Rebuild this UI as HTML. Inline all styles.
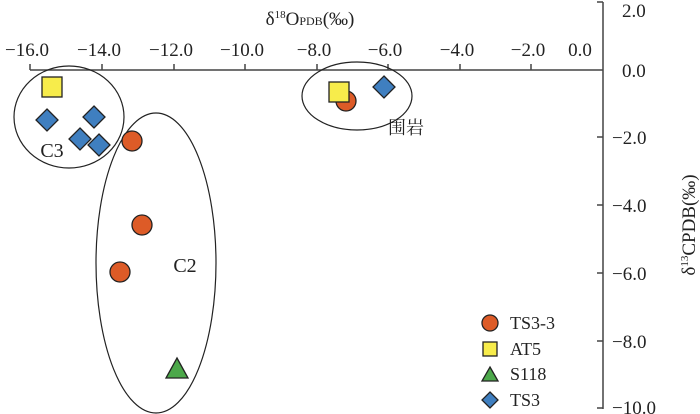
<!DOCTYPE html>
<html><head><meta charset="utf-8"><style>
html,body{margin:0;padding:0;background:#fff;}
svg{display:block;}
text{font-family:"Liberation Serif","Noto Serif CJK SC",serif;fill:#222;}
</style></head><body>
<svg width="700" height="414" viewBox="0 0 700 414" xmlns="http://www.w3.org/2000/svg">
<g stroke="#444" stroke-width="1.5" fill="none">
<line x1="30" y1="70" x2="603" y2="70"/>
<line x1="603" y1="2" x2="603" y2="409"/>
<line x1="30" y1="70" x2="30" y2="64"/><line x1="102" y1="70" x2="102" y2="64"/>
<line x1="174" y1="70" x2="174" y2="64"/><line x1="245" y1="70" x2="245" y2="64"/>
<line x1="317" y1="70" x2="317" y2="64"/><line x1="388" y1="70" x2="388" y2="64"/>
<line x1="460" y1="70" x2="460" y2="64"/><line x1="531" y1="70" x2="531" y2="64"/>
<line x1="603" y1="2" x2="597" y2="2"/><line x1="603" y1="137" x2="597" y2="137"/>
<line x1="603" y1="205" x2="597" y2="205"/><line x1="603" y1="273" x2="597" y2="273"/>
<line x1="603" y1="341" x2="597" y2="341"/><line x1="603" y1="408" x2="597" y2="408"/>
</g>
<g font-size="19" text-anchor="middle">
<text x="27" y="56">−16.0</text><text x="99" y="56">−14.0</text><text x="171" y="56">−12.0</text>
<text x="242" y="56">−10.0</text><text x="314" y="56">−8.0</text><text x="385" y="56">−6.0</text>
<text x="457" y="56">−4.0</text><text x="528" y="56">−2.0</text><text x="580" y="56">0.0</text>
</g>
<g font-size="19">
<text x="622" y="17">2.0</text><text x="622" y="77">0.0</text><text x="612" y="144">−2.0</text>
<text x="612" y="212">−4.0</text><text x="612" y="280">−6.0</text><text x="612" y="348">−8.0</text>
<text x="612" y="414">−10.0</text>
</g>
<text x="310" y="25" font-size="19" text-anchor="middle">δ<tspan font-size="11" dy="-7">18</tspan><tspan dy="7">O</tspan><tspan font-size="12">PDB</tspan>(‰)</text>
<text transform="translate(695,225) rotate(-90)" font-size="19" text-anchor="middle">δ<tspan font-size="11" dy="-7">13</tspan><tspan dy="7">CPDB(‰)</tspan></text>
<g fill="none" stroke="#222" stroke-width="1.2">
<ellipse cx="69" cy="117" rx="55" ry="51"/>
<ellipse cx="156" cy="263" rx="60" ry="150"/>
<ellipse cx="357" cy="96" rx="55" ry="34"/>
</g>
<text x="52" y="157" font-size="20" text-anchor="middle">C3</text>
<text x="185" y="272" font-size="20" text-anchor="middle">C2</text>
<text x="406" y="134" font-size="18" text-anchor="middle">围岩</text>
<g stroke="#222" stroke-width="1.3">
<circle cx="132" cy="141" r="10" fill="#dd5b27"/>
<circle cx="142" cy="225" r="10" fill="#dd5b27"/>
<circle cx="120" cy="272" r="10" fill="#dd5b27"/>
<circle cx="346" cy="101" r="10" fill="#dd5b27"/>
<rect x="42" y="77" width="20" height="20" fill="#f7ec4b"/>
<rect x="329" y="82" width="20" height="20" fill="#f7ec4b"/>
<polygon points="177,358 188,378 166,378" fill="#4ca84a"/>
<polygon points="47,109 58,120 47,131 36,120" fill="#3f7fc0"/>
<polygon points="94,106 105,117 94,128 83,117" fill="#3f7fc0"/>
<polygon points="80,128 91,139 80,150 69,139" fill="#3f7fc0"/>
<polygon points="99,134 110,145 99,156 88,145" fill="#3f7fc0"/>
<polygon points="384,76 395,87 384,98 373,87" fill="#3f7fc0"/>
<circle cx="490" cy="323" r="8" fill="#dd5b27"/>
<rect x="483" y="342" width="14" height="14" fill="#f7ec4b"/>
<polygon points="490,367 498,381 482,381" fill="#4ca84a"/>
<polygon points="490,392 498,400 490,408 482,400" fill="#3f7fc0"/>
</g>
<g font-size="18">
<text x="510" y="329">TS3-3</text><text x="510" y="355">AT5</text>
<text x="510" y="380">S118</text><text x="510" y="406">TS3</text>
</g>
</svg>
</body></html>
